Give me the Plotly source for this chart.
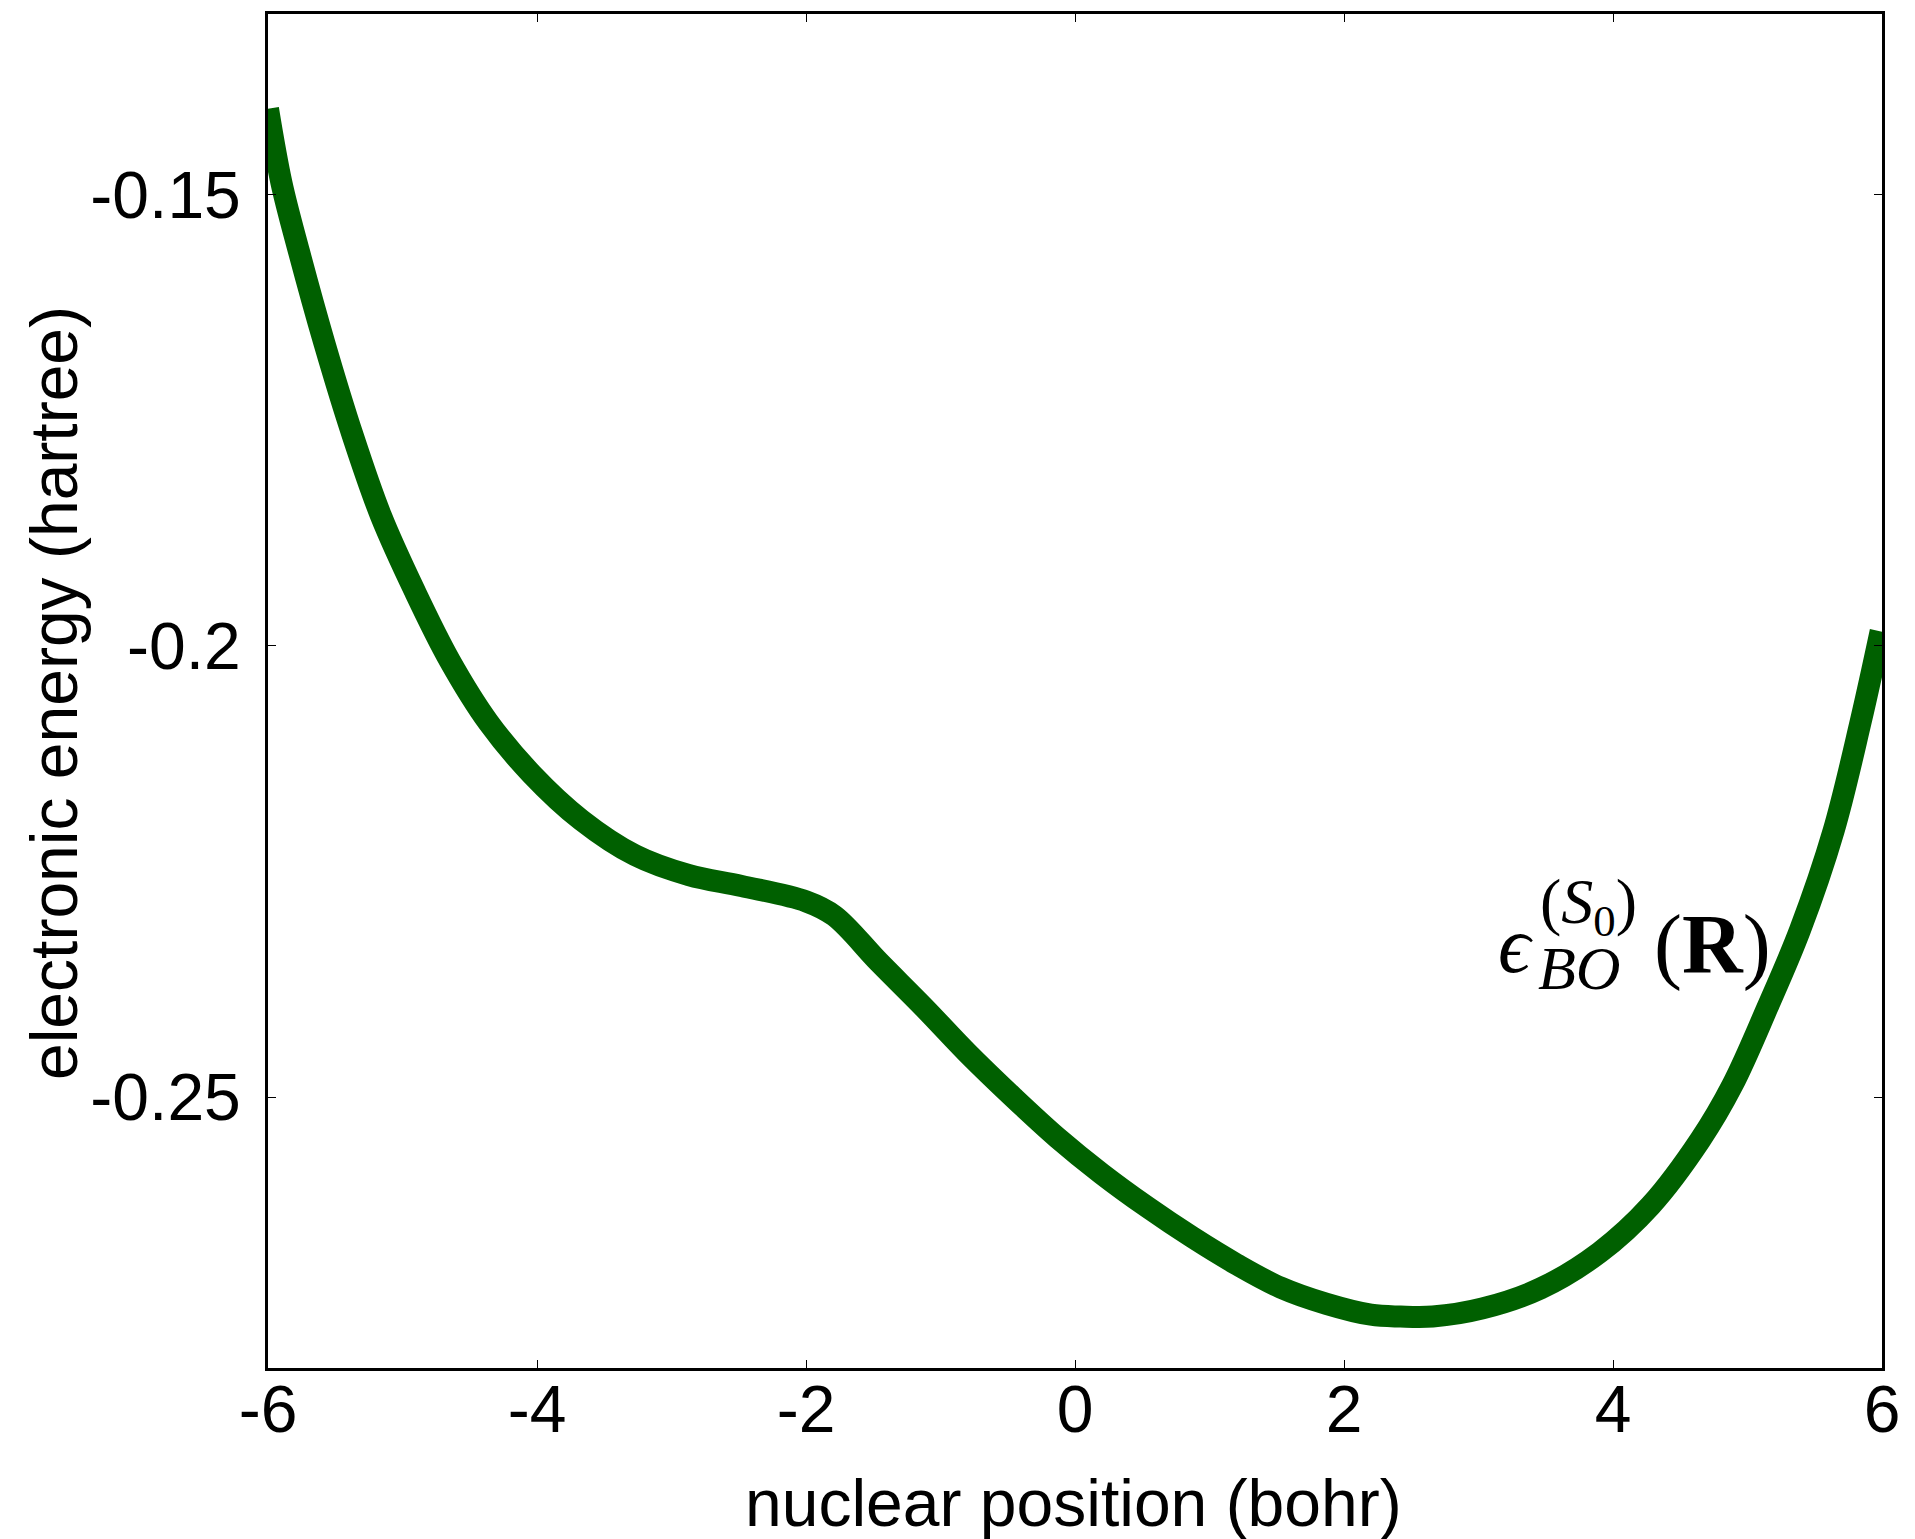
import plotly.graph_objects as go

# nuclear position (bohr)
x_pos = [-6.0, -5.90, -5.77, -5.58, -5.37, -5.16, -4.91, -4.65, -4.36, -4.04,
         -3.67, -3.27, -2.87, -2.48, -2.00, -1.79, -1.46, -1.12, -0.80, -0.46,
         -0.13, 0.20, 0.54, 0.87, 1.20, 1.53, 1.87, 2.20, 2.42, 2.66,
         3.03, 3.46, 3.90, 4.28, 4.65, 4.89, 5.15, 5.39, 5.64, 5.84, 5.99]
# electronic energy (hartree)
energy = [-0.1405, -0.1487, -0.1563, -0.1665, -0.1767, -0.1856, -0.1939, -0.2016, -0.2085, -0.2142,
          -0.2193, -0.2232, -0.2254, -0.2266, -0.2283, -0.2299, -0.2350, -0.2401, -0.2451, -0.2500,
          -0.2545, -0.2585, -0.2622, -0.2655, -0.2685, -0.2711, -0.2729, -0.2741, -0.2743, -0.2743,
          -0.2734, -0.2712, -0.2672, -0.2620, -0.2547, -0.2486, -0.2400, -0.2315, -0.2205, -0.2085, -0.1984]

x_tickvals = [-6, -4, -2, 0, 2, 4, 6]
x_ticktext = ["-6", "-4", "-2", "0", "2", "4", "6"]
y_tickvals = [-0.15, -0.2, -0.25]
y_ticktext = ["-0.15", "-0.2", "-0.25"]

W, H = 1915, 1539
L, R, T, B = 268, 1882, 14, 1368


def px(xp):
    return (xp - L) / (R - L)


def py(yp):
    return (B - yp) / (B - T)


fig = go.Figure()
fig.add_trace(go.Scatter(
    x=x_pos, y=energy, mode="lines",
    line=dict(color="#006000", width=22, shape="spline", smoothing=1.0),
    showlegend=False, hoverinfo="skip",
))

font_main = "Liberation Sans, Arial, Helvetica, sans-serif"
serif = "Liberation Serif, DejaVu Serif, serif"

axis_common = dict(
    showgrid=False, zeroline=False, showline=True, mirror="ticks",
    linecolor="black", linewidth=3, ticks="inside", ticklen=8, tickwidth=1.2,
    tickcolor="black", tickfont=dict(family=font_main, size=66, color="black"),
)

fig.update_layout(
    width=W, height=H,
    margin=dict(l=L, r=W - R, t=T, b=H - B),
    paper_bgcolor="white", plot_bgcolor="white",
    xaxis=dict(range=[-6, 6], tickvals=x_tickvals, ticktext=x_ticktext,
               ticklabelstandoff=-18, **axis_common),
    yaxis=dict(range=[-0.28, -0.13], tickvals=y_tickvals, ticktext=y_ticktext,
               ticklabelstandoff=11, **axis_common),
    annotations=[
        dict(text="nuclear position (bohr)", xref="paper", yref="paper",
             x=px(1073), y=py(1503), xanchor="center", yanchor="middle",
             showarrow=False, font=dict(family=font_main, size=66, color="black")),
        dict(text="electronic energy (hartree)", xref="paper", yref="paper",
             x=px(54), y=py(693), xanchor="center", yanchor="middle", textangle=-90,
             showarrow=False, font=dict(family=font_main, size=66, color="black")),
        dict(text="<i>\u03f5</i>", xref="paper", yref="paper",
             x=px(1515), y=py(945), xanchor="center", yanchor="middle",
             showarrow=False, font=dict(family=serif, size=80, color="black")),
        dict(text="(<i>S</i><sub>0</sub>)", xref="paper", yref="paper",
             x=px(1588), y=py(906), xanchor="center", yanchor="middle",
             showarrow=False, font=dict(family=serif, size=64, color="black")),
        dict(text="<i>BO</i>", xref="paper", yref="paper",
             x=px(1579), y=py(968), xanchor="center", yanchor="middle",
             showarrow=False, font=dict(family=serif, size=62, color="black")),
        dict(text="(<b>R</b>)", xref="paper", yref="paper",
             x=px(1712), y=py(945), xanchor="center", yanchor="middle",
             showarrow=False, font=dict(family=serif, size=84, color="black")),
    ],
)

fig.write_html("out.html")
